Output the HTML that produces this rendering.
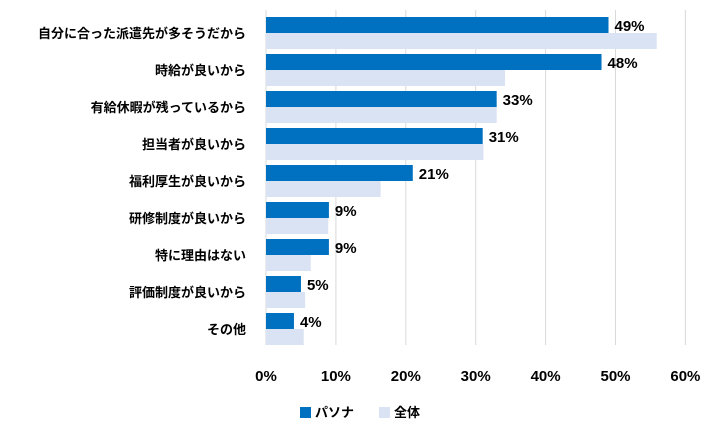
<!DOCTYPE html>
<html><head><meta charset="utf-8"><style>
body{margin:0;background:#fff;}
svg{display:block;font-family:"Liberation Sans","Noto Sans CJK JP",sans-serif;}
</style></head><body>
<svg id="c" width="719" height="439"></svg>
<script>
const categories=["自分に合った派遣先が多そうだから","時給が良いから","有給休暇が残っているから","担当者が良いから","福利厚生が良いから","研修制度が良いから","特に理由はない","評価制度が良いから","その他"];
const pasona=[49,48,33,31,21,9,9,5,4];
const overall=[55.9,34.2,33,31.1,16.4,8.9,6.4,5.6,5.4];
const ticks=[0,10,20,30,40,50,60];
const svg=document.getElementById('c');
const NS='http://www.w3.org/2000/svg';
const x0=266,pxPer=69.9,top0=17,rowH=37,barH=16;
const X=v=>x0+v*pxPer/10;
function mk(t,a,p){const e=document.createElementNS(NS,t);for(const k in a)e.setAttribute(k,a[k]);(p||svg).appendChild(e);return e;}
ticks.forEach(t=>{
 const g=mk('line',{x1:X(t),x2:X(t),y1:10,y2:345,stroke:'#d9d9d9','stroke-width':1});
 
 
 const l=mk('text',{x:X(t),y:381,'text-anchor':'middle','font-size':15,'font-weight':'bold',fill:'#000'});
 l.textContent=t+'%';
 
 
});
categories.forEach((c,i)=>{
 const y=top0+i*rowH;
 const b2=mk('rect',{x:X(0),y:y+barH,width:X(overall[i])-X(0),height:barH,fill:'#dae3f3'});
 
 
 const b1=mk('rect',{x:X(0),y:y,width:X(pasona[i])-X(0),height:barH,fill:'#0070c0'});
 
 
 const v=mk('text',{x:X(pasona[i])+6,y:y+14,'font-size':15,'font-weight':'bold',fill:'#000'});
 v.textContent=pasona[i]+'%';
 
 
 const l=mk('text',{x:246,y:y+21,'text-anchor':'end','font-size':13,'font-weight':'bold',fill:'#000'});
 l.textContent=c;
 
 
});
</script>
<div style="position:absolute;left:0;top:0;width:719px;height:439px;pointer-events:none;">
 <div style="position:absolute;top:402px;left:300px;font:bold 13px 'Liberation Sans','Noto Sans CJK JP',sans-serif;">
  <span style="position:absolute;left:0;top:0;white-space:nowrap;"><span style="display:inline-block;width:11px;height:11px;background:#0070c0;vertical-align:-1px;margin-right:4px"></span>パソナ</span>
  <span style="position:absolute;left:79px;top:0;white-space:nowrap;"><span style="display:inline-block;width:11px;height:11px;background:#dae3f3;vertical-align:-1px;margin-right:4px"></span>全体</span>
 </div>
</div>
</body></html>
